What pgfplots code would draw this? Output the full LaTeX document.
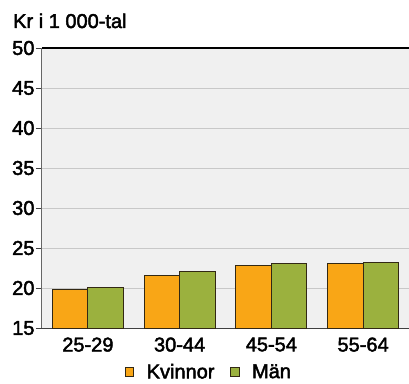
\documentclass[border=0pt]{standalone}
\usepackage{pgfplots}
\pgfplotsset{compat=1.18}
\usepackage{fontspec}
\setmainfont{Liberation Sans}
\definecolor{kv}{RGB}{249,166,22}
\definecolor{ma}{RGB}{155,177,62}
\definecolor{bg}{RGB}{240,240,240}
\definecolor{gr}{RGB}{200,200,200}
\definecolor{ol}{RGB}{50,40,20}
\newcommand{\tf}{\fontsize{20}{23}\selectfont\special{pdf:literal direct 2 Tr 0.45 w}}
\begin{document}
\begin{tikzpicture}
\useasboundingbox (-42pt,-55pt) rectangle (367pt,328pt);
\begin{axis}[
  scale only axis,
  width=367pt, height=280pt,
  ymin=15, ymax=50, ytick={15,20,...,50},
  xmin=-0.5, xmax=3.5,
  xtick={0,1,2,3},
  xticklabels={25-29,30-44,45-54,55-64},
  ybar=0pt, bar width=35.5pt,
  axis x line*=bottom, axis y line*=left,
  x axis line style={draw=black!75, line width=1pt, -},
  y axis line style={draw=black!60, line width=1pt, -},
  axis background/.style={fill=bg},
  ymajorgrids, major grid style={draw=gr, line width=1pt},
  major x tick style={draw=none},
  major y tick style={draw=black!75, line width=1pt},
  tick align=outside, major tick length=6pt,
  ticklabel style={font=\tf, text=black},
  /pgf/number format/assume math mode=true,
  xticklabel style={yshift=0pt},
  yticklabel style={xshift=2pt},
  legend style={at={(0.1826,-0.157)}, anchor=west, legend columns=-1,
    draw=none, fill=none, inner sep=0pt, column sep=0pt,
    font=\tf,
    nodes={inner sep=0pt}},
  legend image code/.code={\path[draw=none, fill=none] (-16pt,0pt) -- (21.5pt,0pt);
    \draw[#1, line width=0.8pt] (0pt,-4.3pt) rectangle (8.6pt,4.3pt);},
  clip=false,
]
\addplot[fill=kv, draw=ol, line width=1pt] coordinates {(0,19.84) (1,21.58) (2,22.79) (3,23.12)};
\addplot[fill=ma, draw=ol, line width=1pt] coordinates {(0,20.04) (1,22.04) (2,23.12) (3,23.25)};
\legend{Kvinnor, Män}
\draw[black, line width=1.2pt] (rel axis cs:0,1) -- (rel axis cs:1,1);
\end{axis}
\node[anchor=base west, font=\tf, inner sep=0pt] at (-29pt,300pt) {Kr i 1 000-tal};
\end{tikzpicture}
\end{document}
